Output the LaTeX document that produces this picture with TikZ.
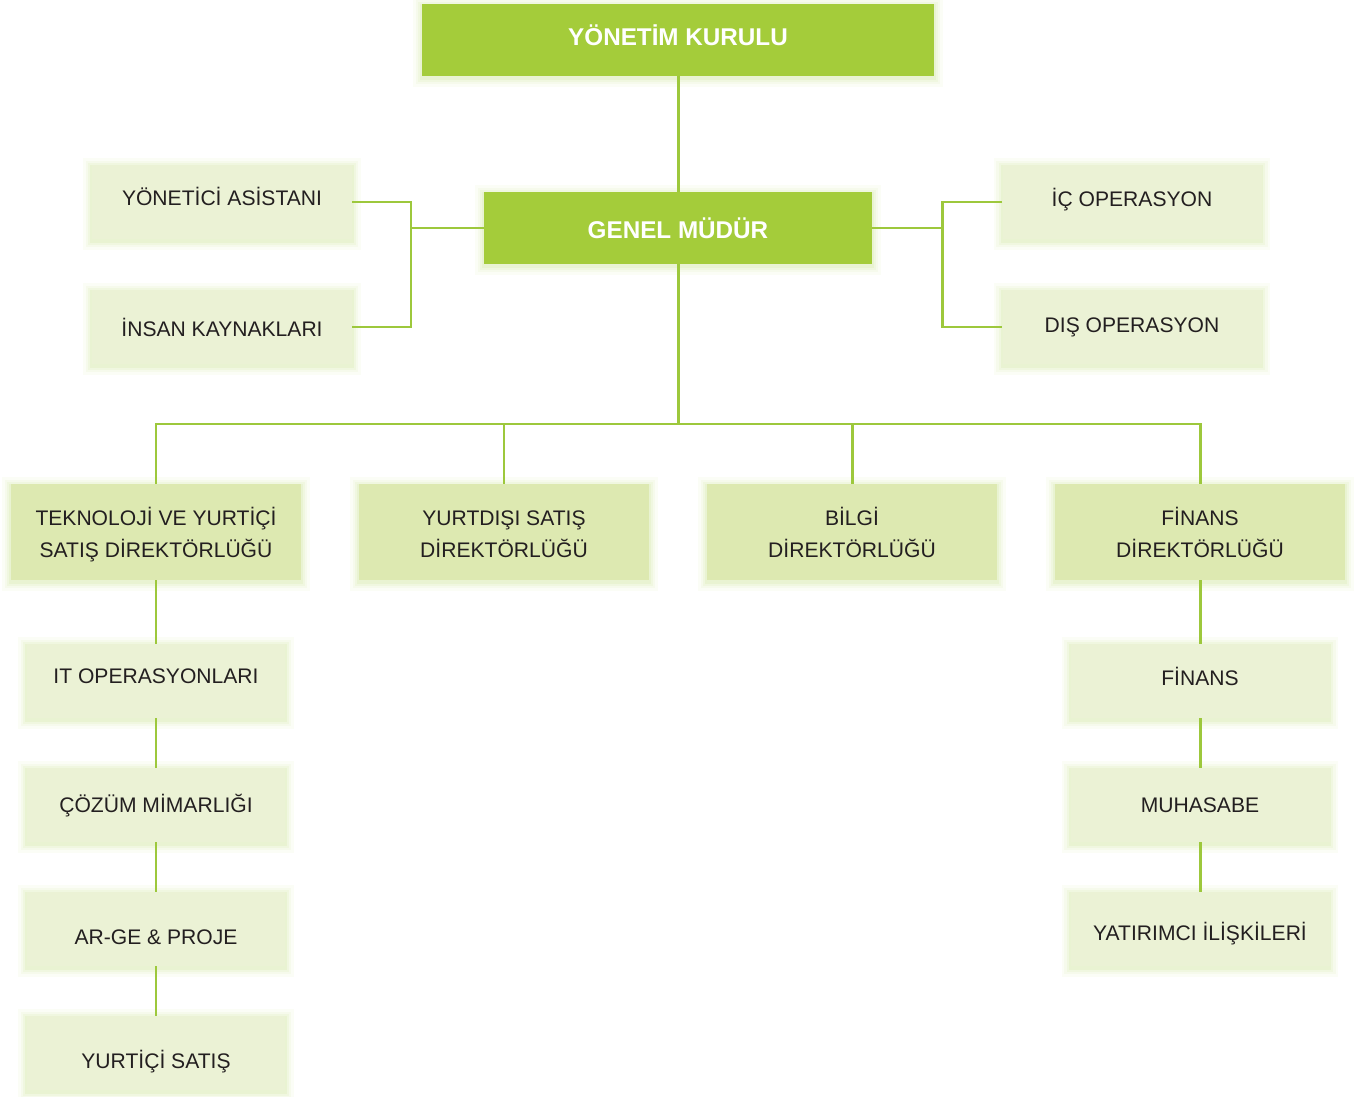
\documentclass[tikz,border=0pt]{standalone}
\usepackage{fontspec}
\setmainfont{Liberation Sans}
\usetikzlibrary{positioning}
\definecolor{green1}{RGB}{164, 204, 58}
\definecolor{green2}{RGB}{221, 233, 177}
\definecolor{green3}{RGB}{235, 242, 213}
\definecolor{green4}{RGB}{157, 200, 60}
\definecolor{glow}{RGB}{170, 208, 80}
\definecolor{ink}{RGB}{35, 31, 32}
\tikzset{
glowing/.style={
	preaction={draw=glow, line width=10pt, opacity=0.05, transform canvas={yshift=-1pt}},
	preaction={draw=glow, line width=7pt, opacity=0.06, transform canvas={yshift=-1pt}},
	preaction={draw=glow, line width=4.5pt, opacity=0.08, transform canvas={yshift=-1pt}},
	preaction={draw=glow, line width=2pt, opacity=0.10, transform canvas={yshift=-1pt}}
},
link/.style={draw=green4, line width=1.7pt},
}

\begin{document}
\begin{tikzpicture}[node distance=2.48cm]
\tikzstyle{head}=[glowing, fill=green1, text=white, font=\fontsize{13.8}{17}\selectfont\bfseries, minimum height=1.44cm]
\tikzstyle{unit}=[glowing, fill=green3, text=ink, font=\fontsize{12}{18}\selectfont, minimum width=5.18cm, minimum height=1.48cm]
\tikzstyle{dept}=[glowing, fill=green2, text=ink, font=\fontsize{12}{18.5}\selectfont, minimum width=5.8cm, minimum height=1.92cm, align=center, text height=29.5pt, text depth=0pt]
\useasboundingbox (0,0) rectangle (27.36,-21.94);
%Place the nodes
\node[head, minimum width=10.24cm, text depth=6pt] (yk) at (13.56,-0.80) {YÖNETİM KURULU};
\node[head, minimum width=7.76cm] (gm) at (13.56,-4.56) {GENEL MÜDÜR};

\node[unit, minimum width=5.2cm, text depth=6pt] (ya) at (4.44,-4.04) {YÖNETİCİ ASİSTANI};
\node[unit, minimum width=5.2cm] (ik) at (4.44,-6.54) {İNSAN KAYNAKLARI};
\node[unit, text depth=5pt] (ico) at (22.64,-4.04) {İÇ OPERASYON};
\node[unit] (dis) at (22.64,-6.54) {DIŞ OPERASYON};

\node[dept] (d1) at (3.12,-10.64) {TEKNOLOJİ VE YURTİÇİ\\SATIŞ DİREKTÖRLÜĞÜ};
\node[dept] (d2) at (10.08,-10.64) {YURTDIŞI SATIŞ\\DİREKTÖRLÜĞÜ};
\node[dept] (d3) at (17.04,-10.64) {BİLGİ\\DİREKTÖRLÜĞÜ};
\node[dept] (d4) at (24.00,-10.64) {FİNANS\\DİREKTÖRLÜĞÜ};

\node[unit, minimum width=5.16cm, text depth=5pt] (it) at (3.12,-13.62) {IT OPERASYONLARI};
\node[unit, minimum width=5.16cm, below of=it, text height=11pt] (cm) {ÇÖZÜM MİMARLIĞI};
\node[unit, minimum width=5.16cm, below of=cm, text height=18pt] (ar) {AR-GE \& PROJE};
\node[unit, minimum width=5.16cm, below of=ar, text height=20pt] (ys) {YURTİÇİ SATIŞ};

\node[unit, text depth=5pt] (fin) at (24.00,-13.62) {FİNANS};
\node[unit, below of=fin] (muh) {MUHASABE};
\node[unit, below of=muh, text height=16pt] (yat) {YATIRIMCI İLİŞKİLERİ};

\coordinate (lb) at (8.22,-4.56);
\coordinate (rb) at (18.84,-4.56);
\coordinate (bus) at (13.56,-8.48);

%
\draw[link] (yk) -- (gm);
\draw[link] (ya.east) -| (lb) |- (ik.east);
\draw[link] (lb) -- (gm.west);
\draw[link] (ico.west) -| (rb) |- (dis.west);
\draw[link] (rb) -- (gm.east);

%
\draw[link] (gm.south) -- (bus);
\foreach \d in {d1,d2,d3,d4} {
	\draw[link] (bus) -| (\d.north);
}

%
\draw[link] (d1) -- (it);
\draw[link] (it) -- (cm);
\draw[link] (cm) -- (ar);
\draw[link] (ar) -- (ys);
\draw[link] (d4) -- (fin);
\draw[link] (fin) -- (muh);
\draw[link] (muh) -- (yat);

\end{tikzpicture}
\end{document}
